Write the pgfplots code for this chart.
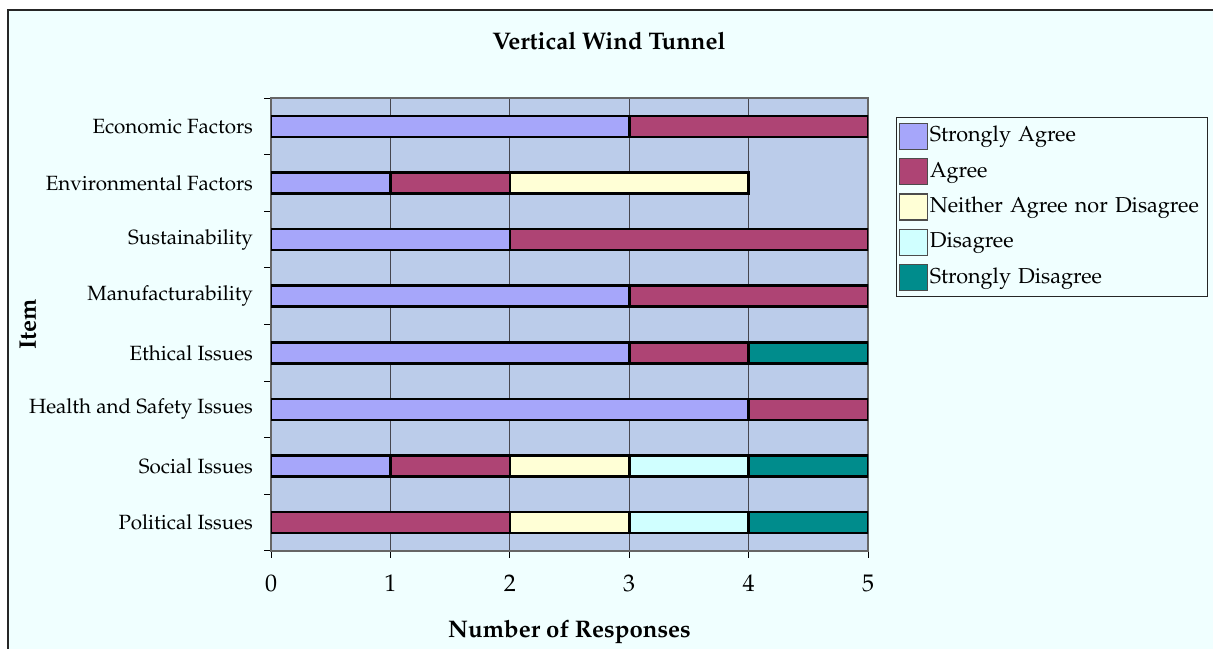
\documentclass[border=0pt]{standalone}
\usepackage[T1]{fontenc}
\usepackage{mathpazo}
\usepackage{pgfplots}
\pgfplotsset{compat=1.18}

\definecolor{pagebg}{RGB}{240,255,255}
\definecolor{plotbg}{RGB}{187,204,234}
\definecolor{cSA}{RGB}{166,166,250}
\definecolor{cA}{RGB}{174,68,116}
\definecolor{cN}{RGB}{255,255,214}
\definecolor{cD}{RGB}{208,255,255}
\definecolor{cSD}{RGB}{0,140,140}
\definecolor{gridc}{RGB}{70,70,80}

\begin{document}
\begin{tikzpicture}
  \useasboundingbox (0pt,0pt) rectangle (606.5pt,-324pt);
  \fill[white] (0pt,0pt) rectangle (606.5pt,-324pt);
  \draw[fill=pagebg, draw=black!85, line width=0.6pt] (4pt,-5pt) rectangle (630pt,-345pt);

  \begin{axis}[
    at={(135.5pt,-49pt)}, anchor=north west,
    scale only axis,
    width=298.5pt, height=226.5pt,
    xbar stacked,
    bar width=10.5pt,
    xmin=0, xmax=5,
    ymin=-0.5, ymax=7.5,
    xtick={0,1,2,3,4,5},
    ytick={-0.5,0.5,...,7.5},
    yticklabels={},
    extra y ticks={0,1,2,3,4,5,6,7},
    extra y tick labels={Political Issues, Social Issues, Health and Safety Issues, Ethical Issues, Manufacturability, Sustainability, Environmental Factors, Economic Factors},
    extra y tick style={major tick length=0pt, yticklabel style={font=\fontsize{10.3}{12}\selectfont, xshift=-5.5pt}},
    xtick pos=bottom, ytick pos=left,
    tick align=outside,
    major tick length=3.5pt,
    tick style={black, line width=0.5pt},
    xticklabel style={font=\fontsize{12}{14}\selectfont, yshift=-5pt},
    xmajorgrids,
    grid style={gridc, line width=0.5pt},
    axis background/.style={fill=plotbg},
    axis line style={black!60, line width=0.6pt},
    title={\bfseries Vertical Wind Tunnel},
    title style={font=\fontsize{12}{14}\selectfont, at={(0.566,1.1)}, anchor=center},
    xlabel={\bfseries Number of Responses},
    xlabel style={font=\fontsize{12}{14}\selectfont, at={(0.5,-0.178)}, anchor=center},
    ylabel={\bfseries Item},
    ylabel style={font=\fontsize{12}{14}\selectfont, at={(-0.407,0.5)}, anchor=center},
    every axis plot/.append style={draw=black, line width=1.3pt},
    legend image code/.code={\draw[#1, draw=black!70, line width=0.6pt] (0pt,-6.5pt) rectangle (14pt,6.5pt);},
    legend cell align=left,
    legend style={
      at={(1.0469,0.958)}, anchor=north west,
      fill=pagebg, draw=black!85, line width=0.6pt,
      font=\fontsize{10.8}{12}\selectfont,
      inner xsep=1pt, inner ysep=2pt,
      row sep=3.2pt,
      nodes={inner xsep=1pt, inner ysep=2pt, text depth=2.5pt, text height=8pt},
      /tikz/every even column/.append style={text width=137pt, align=left},
    },
  ]
    % y: 0 Political, 1 Social, 2 Health and Safety, 3 Ethical,
    %    4 Manufacturability, 5 Sustainability, 6 Environmental, 7 Economic
    \addplot[fill=cSA] coordinates {(0,0) (1,1) (4,2) (3,3) (3,4) (2,5) (1,6) (3,7)};
    \addplot[fill=cA]  coordinates {(2,0) (1,1) (1,2) (1,3) (2,4) (3,5) (1,6) (2,7)};
    \addplot[fill=cN]  coordinates {(1,0) (1,1) (0,2) (0,3) (0,4) (0,5) (2,6) (0,7)};
    \addplot[fill=cD]  coordinates {(1,0) (1,1) (0,2) (0,3) (0,4) (0,5) (0,6) (0,7)};
    \addplot[fill=cSD] coordinates {(1,0) (1,1) (0,2) (1,3) (0,4) (0,5) (0,6) (0,7)};
    \legend{Strongly Agree, Agree, Neither Agree nor Disagree, Disagree, Strongly Disagree}
  \end{axis}
\end{tikzpicture}
\end{document}
